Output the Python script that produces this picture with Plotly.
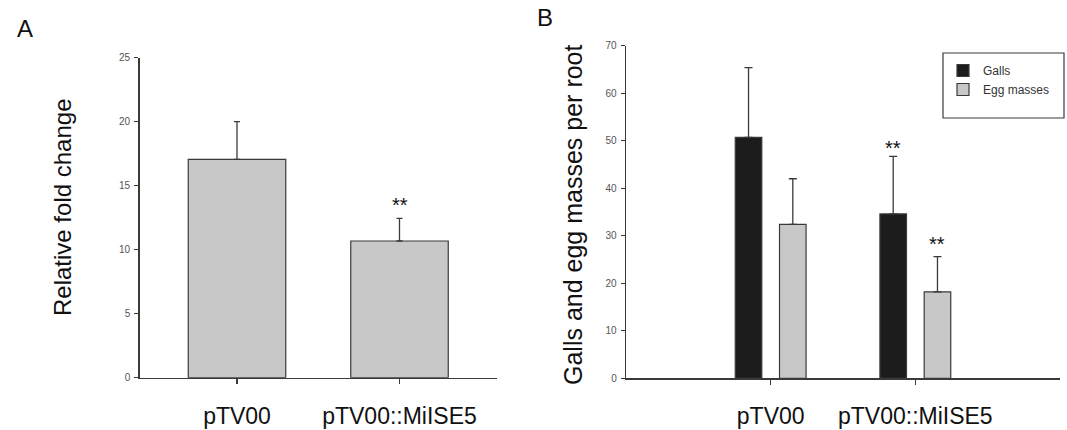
import plotly.graph_objects as go

W, H = 1067, 430

# ---- data ----
categories = ["pTV00", "pTV00::MiISE5"]
fold_change = [17.06, 10.68]
fold_err = [2.94, 1.77]
fold_sig = ["", "**"]

galls = [50.7, 34.6]
galls_err = [14.7, 12.1]
galls_sig = ["", "**"]
eggs = [32.4, 18.2]
eggs_err = [9.6, 7.4]
eggs_sig = ["", "**"]

FONT = "Liberation Sans, Arial, sans-serif"
AX = "#3a3a3a"
TICK_TXT = "#555555"
LIGHT = "#c8c8c8"
DARK = "#1c1c1c"

def px_x(p):
    return p / W

def px_y(p):
    return (H - p) / H

fig = go.Figure()

fig.add_trace(go.Bar(
    x=categories, y=fold_change, width=0.6,
    marker=dict(color=LIGHT, line=dict(color=AX, width=1.2)),
    error_y=dict(type="data", array=fold_err, arrayminus=[0] * len(fold_err), symmetric=False,
                 color=AX, thickness=1.3, width=3),
    xaxis="x", yaxis="y", showlegend=False, name="fold", hoverinfo="skip"))

fig.add_trace(go.Bar(
    x=categories, y=galls, name="Galls",
    marker=dict(color=DARK, line=dict(color=AX, width=1.2)),
    error_y=dict(type="data", array=galls_err, arrayminus=[0] * len(galls_err), symmetric=False,
                 color=AX, thickness=1.3, width=4),
    xaxis="x2", yaxis="y2", hoverinfo="skip"))
fig.add_trace(go.Bar(
    x=categories, y=eggs, name="Egg masses",
    marker=dict(color=LIGHT, line=dict(color=AX, width=1.2)),
    error_y=dict(type="data", array=eggs_err, arrayminus=[0] * len(eggs_err), symmetric=False,
                 color=AX, thickness=1.3, width=4),
    xaxis="x2", yaxis="y2", hoverinfo="skip"))

common_y = dict(showline=True, linecolor=AX, linewidth=1.3, ticks="outside", ticklen=4,
                tickcolor=AX, tickwidth=1.2, showgrid=False, zeroline=False, automargin=False,
                tickfont=dict(family=FONT, size=10, color=TICK_TXT), ticklabelstandoff=2)
common_x = dict(type="category", showline=True, linecolor=AX, linewidth=1.3, ticks="outside",
                ticklen=5, tickcolor=AX, tickwidth=1.2, showgrid=False, zeroline=False,
                automargin=False,
                tickfont=dict(family=FONT, size=23, color="#111111"), ticklabelstandoff=12)

fig.update_layout(
    width=W, height=H,
    margin=dict(l=0, r=0, t=0, b=0, pad=0),
    paper_bgcolor="white", plot_bgcolor="white",
    barmode="group", bargap=0.388, bargroupgap=0.4,
    font=dict(family=FONT),
    xaxis=dict(domain=[px_x(139.5), px_x(497)], range=[-0.6, 1.6], anchor="y", **common_x),
    yaxis=dict(domain=[px_y(377.7), px_y(57.7)], range=[0, 25], tickvals=[0, 5, 10, 15, 20, 25],
               anchor="x", **common_y),
    xaxis2=dict(domain=[px_x(626), px_x(1060)], range=[-1, 2], anchor="y2", **common_x),
    yaxis2=dict(domain=[px_y(378.3), px_y(45.7)], range=[0, 70], dtick=10, anchor="x2", **common_y),
    legend=dict(x=px_x(943), y=px_y(56), xanchor="left", yanchor="top",
                bgcolor="rgba(0,0,0,0)", borderwidth=0, tracegroupgap=0,
                font=dict(family=FONT, size=12, color="#333333")),
    shapes=[dict(type="rect", xref="paper", yref="paper",
                 x0=px_x(943), x1=px_x(1064), y0=px_y(118), y1=px_y(53),
                 line=dict(color=AX, width=1.2))],
)

ann = []
big = dict(family=FONT, size=24, color="#111")
ann.append(dict(text="A", xref="paper", yref="paper", x=px_x(25), y=px_y(28),
                xanchor="center", yanchor="middle", showarrow=False, font=big))
ann.append(dict(text="B", xref="paper", yref="paper", x=px_x(545), y=px_y(17),
                xanchor="center", yanchor="middle", showarrow=False, font=big))
ann.append(dict(text="Relative fold change", xref="paper", yref="paper", x=px_x(62), y=px_y(208),
                xanchor="center", yanchor="middle", textangle=-90, showarrow=False, font=big))
ann.append(dict(text="Galls and egg masses per root", xref="paper", yref="paper", x=px_x(573),
                y=px_y(215), xanchor="center", yanchor="middle", textangle=-90, showarrow=False,
                font=dict(family=FONT, size=25, color="#111")))

star = dict(family=FONT, size=20, color="#111")
for c, v, e, s in zip(categories, fold_change, fold_err, fold_sig):
    if s:
        ann.append(dict(text=s, x=c, y=v + e, xref="x", yref="y", xanchor="center",
                        yanchor="bottom", showarrow=False, font=star))
for c, v, e, s in zip(categories, galls, galls_err, galls_sig):
    if s:
        ann.append(dict(text=s, x=c, y=v + e, xref="x2", yref="y2", xanchor="center",
                        yanchor="bottom", xshift=-22, yshift=-5, showarrow=False, font=star))
for c, v, e, s in zip(categories, eggs, eggs_err, eggs_sig):
    if s:
        ann.append(dict(text=s, x=c, y=v + e, xref="x2", yref="y2", xanchor="center",
                        yanchor="bottom", xshift=22, showarrow=False, font=star))
fig.update_layout(annotations=ann)

fig.write_html(
    "out.html",
    config={"displayModeBar": False, "staticPlot": True},
    post_script="document.body.style.margin='0';document.body.style.padding='0';"
                "document.body.style.overflow='hidden';",
)
